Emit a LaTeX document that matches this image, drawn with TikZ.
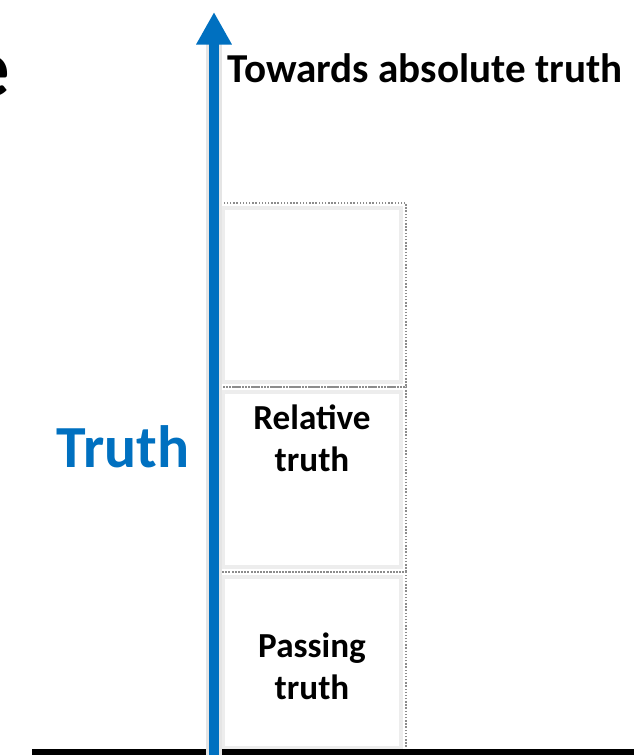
\documentclass[tikz,border=0pt]{standalone}
\usepackage{fontspec}
\setmainfont{Carlito}
\usetikzlibrary{arrows.meta}
\definecolor{truthblue}{HTML}{0070C0}
\tikzset{
	levelbox/.style={densely dotted, line width=0.8pt, color=black!45},
	levelglow/.style={line width=2pt, color=black!7},
	levellabel/.style={font=\bfseries\fontsize{20}{24}\selectfont, align=center, inner sep=0pt}
}

\begin{document}
\begin{tikzpicture}[x=0.02cm, y=-0.02cm]
		%%%%% START %%%%%
		\useasboundingbox (0, 0) rectangle (644, 755);
		
		% cut-off letter at the left edge
		\node[anchor=base east, inner sep=0pt, font=\bfseries\fontsize{47}{52}\selectfont] (lefte) at (10, 96) {e};
		
		% level boxes
		\draw[levelglow] (223, 208) rectangle (401, 382);
		\draw[levelglow] (223, 392) rectangle (401, 567);
		\draw[levelglow] (223, 577) rectangle (401, 748);
		\draw[levelbox] (218, 203) rectangle (406, 387);
		\draw[levelbox] (218, 387) rectangle (406, 572);
		\draw[levelbox] (218, 572) rectangle (406, 752);
		
		\node[levellabel] (relative) at (312, 438) {Relative\\truth};
		\node[levellabel] (passing) at (312, 666) {Passing\\truth};
		
		% ground line
		\draw[fill=black, draw=none] (32, 749) rectangle (634, 757);
		
		% truth axis
		\coordinate (axisbase) at (214, 755);
		\coordinate (axistop) at (214, 12);
		\draw[line width=9pt, color=black!10] (axisbase) -- (214, 30);
		\draw[line width=5.7pt, color=truthblue, -{Triangle[width=19pt, length=18.5pt]}] (axisbase) -- (axistop);
		
		\node[anchor=west, inner sep=0pt, font=\bfseries\fontsize{23.4}{27}\selectfont] (absolute) at (227, 68) {Towards absolute truth};
		\node[inner sep=0pt, color=truthblue, font=\bfseries\fontsize{34}{40}\selectfont] (truth) at (123, 447) {Truth};
		
		%%%%% END %%%%%
	\end{tikzpicture}
\end{document}
